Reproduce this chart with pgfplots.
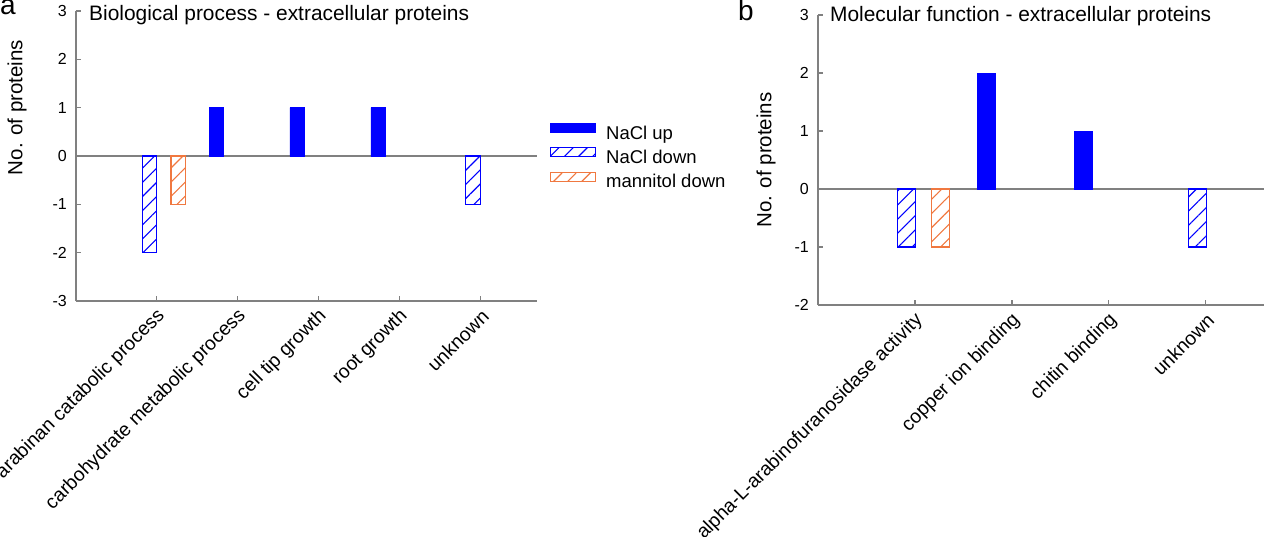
\documentclass[border=0pt]{standalone}
\usepackage{pgfplots}
\pgfplotsset{compat=1.18}
\usetikzlibrary{patterns.meta}
\usepackage{fontspec}
\setmainfont{Liberation Sans}
\setsansfont{Liberation Sans}

\definecolor{upblue}{RGB}{0,0,255}
\definecolor{mannorange}{RGB}{240,120,64}
\definecolor{axisgray}{RGB}{128,128,128}

\newcommand\lblfont{\fontsize{20.5}{24}\selectfont}
\newcommand\xtfont{\fontsize{19.3}{22}\selectfont}
\newcommand\titlefont{\fontsize{20.9}{24}\selectfont}
\newcommand\ytfont{\fontsize{16}{18}\selectfont}
\newcommand\lgfont{\fontsize{18.5}{22}\selectfont}
\newcommand\panelfont{\fontsize{28}{30}\selectfont}

\pgfplotsset{
  panel/.style={
    scale only axis, height=290pt,
    axis x line=bottom, axis y line=left,
    axis line style={-, draw=axisgray, line width=1.2pt},
    x axis line style={-}, y axis line style={-},
    tick style={draw=axisgray, line width=1.2pt},
    tick align=inside, major tick length=5pt,
    xtick pos=bottom, ytick pos=left,
    xticklabel style={font=\xtfont, inner sep=0pt, xshift=5pt, yshift=-12pt, rotate=45, anchor=east},
    yticklabel style={font=\ytfont, anchor=east, inner sep=0pt, xshift=-9pt},
    label style={font=\lblfont},
    extra y ticks={0}, extra y tick labels={},
    extra y tick style={grid=major, major grid style={draw=axisgray, line width=1.3pt}},
    clip=false,
  },
  upbar/.style={ybar, bar width=#1, bar shift=-0.265, fill=upblue, draw=upblue, line width=0.4pt},
  downbar/.style={ybar, bar width=#1, bar shift=-0.09, draw=upblue, line width=1.1pt,
    pattern={Lines[angle=45,distance=10pt,line width=1.1pt]}, pattern color=upblue},
  mandownbar/.style={ybar, bar width=#1, bar shift=0.265, draw=mannorange, line width=1.1pt,
    pattern={Lines[angle=45,distance=10pt,line width=1.1pt]}, pattern color=mannorange},
}

\begin{document}
\begin{tikzpicture}
\path[use as bounding box] (0,0) rectangle (1283pt,-537pt);

\node[anchor=base west, font=\panelfont, inner sep=0pt] at (0pt,-15pt) {a};
\node[anchor=base west, font=\panelfont, inner sep=0pt] at (738pt,-20.5pt) {b};

% a: biological process
\begin{axis}[panel,
  at={(76pt,-301pt)}, anchor=south west, width=461pt,
  xmin=0, xmax=5.7, ymin=-3, ymax=3,
  xtick={1,2,3,4,5},
  xticklabels={arabinan catabolic process, carbohydrate metabolic process, cell tip growth, root growth, unknown},
  ytick={-3,-2,-1,0,1,2,3},
  yticklabels={-3,-2,-1,0,1,2,3},
  ylabel={No. of proteins},
  ylabel style={at={(rel axis cs:0,0.667)}, anchor=center, yshift=59pt},
  legend style={at={(1.028,0.613)}, anchor=north west, draw=none, fill=none,
    inner sep=0pt, font=\lgfont, row sep=4pt, column sep=10pt,
    nodes={inner sep=0pt, text height=13.3pt, text depth=3.9pt}},
  legend cell align=left,
  legend image code/.code={\draw[#1] (0pt,2.1pt) rectangle (45pt,11.1pt);},
]
\addplot[upbar=0.18] coordinates {(2,1) (3,1) (4,1)};
\addlegendentry{NaCl up}
\addplot[downbar=0.18] coordinates {(1,-2) (5,-1)};
\addlegendentry{NaCl down}
\addplot[mandownbar=0.18] coordinates {(1,-1)};
\addlegendentry{mannitol down}
\node[anchor=base west, font=\titlefont, inner sep=0pt, xshift=13pt, yshift=-9.7pt] at (rel axis cs:0,1) {Biological process - extracellular proteins};
\end{axis}

% b: molecular function
\begin{axis}[panel,
  at={(818pt,-305pt)}, anchor=south west, width=446pt,
  xmin=0, xmax=4.6, ymin=-2, ymax=3,
  xtick={1,2,3,4},
  xticklabels={alpha-L-arabinofuranosidase activity, copper ion binding, chitin binding, unknown},
  ytick={-2,-1,0,1,2,3},
  yticklabels={-2,-1,0,1,2,3},
  ylabel={No. of proteins},
  ylabel style={at={(rel axis cs:0,0.5)}, anchor=center, yshift=52pt},
]
\addplot[upbar=0.185] coordinates {(2,2) (3,1)};
\addplot[downbar=0.185] coordinates {(1,-1) (4,-1)};
\addplot[mandownbar=0.185] coordinates {(1,-1)};
\node[anchor=base west, font=\titlefont, inner sep=0pt, xshift=12pt, yshift=-6.7pt] at (rel axis cs:0,1) {Molecular function - extracellular proteins};
\end{axis}
\end{tikzpicture}
\end{document}
